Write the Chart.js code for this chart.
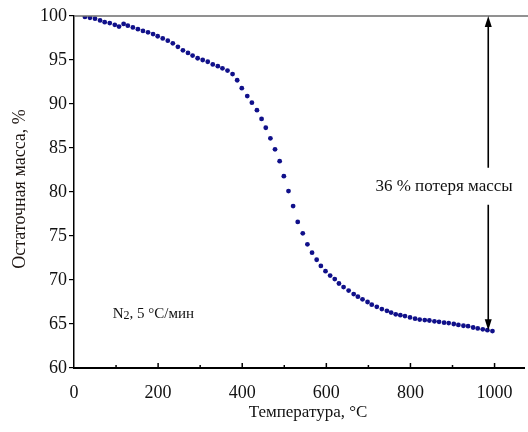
<!DOCTYPE html>
<html>
<head>
<meta charset="utf-8">
<script src="https://cdn.jsdelivr.net/npm/chart.js@4"></script>
<style>
  html, body { margin: 0; padding: 0; background: #fff; }
  #wrap { width: 528px; height: 432px; position: relative; }
</style>
</head>
<body>
<div id="wrap"><canvas id="tga"></canvas></div>
<script>
// temperature, °C
const temps = [
  26, 38, 50, 62, 73, 85, 97, 107, 118, 128,
  140, 152, 164, 176, 188, 199, 211, 223, 235, 247,
  259, 271, 282, 294, 306, 318, 330, 342, 353, 365,
  377, 388, 399, 412, 423, 435, 446, 456, 467, 478,
  489, 499, 510, 521, 532, 544, 555, 566, 577, 587,
  598, 609, 620, 630, 641, 653, 665, 675, 686, 698,
  708, 720, 732, 744, 754, 765, 776, 787, 799, 811,
  822, 834, 845, 857, 868, 880, 891, 903, 914, 926,
  937, 949, 960, 972, 983, 995
];
// residual mass, %
const mass = [
  99.9, 99.8, 99.7, 99.5, 99.3, 99.2, 99.0, 98.8, 99.1, 98.9,
  98.7, 98.5, 98.3, 98.15, 97.95, 97.7, 97.45, 97.2, 96.9, 96.5,
  96.1, 95.8, 95.5, 95.2, 95.0, 94.8, 94.5, 94.3, 94.05, 93.8,
  93.4, 92.7, 91.8, 90.9, 90.15, 89.3, 88.3, 87.3, 86.1, 84.85,
  83.5, 81.8, 80.1, 78.4, 76.6, 75.3, 74.05, 73.1, 72.3, 71.6,
  71.0, 70.5, 70.1, 69.6, 69.2, 68.8, 68.4, 68.1, 67.8, 67.5,
  67.2, 66.95, 66.7, 66.5, 66.3, 66.1, 66.0, 65.9, 65.75, 65.6,
  65.5, 65.45, 65.4, 65.3, 65.25, 65.15, 65.1, 65.0, 64.9, 64.8,
  64.75, 64.6, 64.5, 64.4, 64.3, 64.2
];

const xMajorTicks = [0, 200, 400, 600, 800, 1000];
const yMajorTicks = [60, 65, 70, 75, 80, 85, 90, 95, 100];

const xTitle = 'Температура, °C';
const yTitle = 'Остаточная масса, %';
const lossLabel = '36 % потеря массы';
// "N2, 5 °C/мин" with the 2 set as a subscript
const condLabelParts = ['N', '2', ', 5 °C/мин'];

// arrow: temperature and mass range it spans
const arrowT = 985;
const arrowTop = 100;
const arrowBottom = 64.3;
const lossLabelAt = { t: 880, m: 80.6 };
const condLabelAt = { t: 92, m: 66.1 };

const serif = '"Liberation Serif", "DejaVu Serif", serif';

const points = temps.map((t, i) => ({ x: t, y: mass[i] }));

function arrowHead(ctx, x, y, dir) {
  ctx.beginPath();
  ctx.moveTo(x, y);
  ctx.lineTo(x - 3.5, y - dir * 11);
  ctx.lineTo(x + 3.5, y - dir * 11);
  ctx.closePath();
  ctx.fill();
}

const decorations = {
  id: 'decorations',
  afterDraw(chart) {
    const { ctx, chartArea: area, scales: { x, y } } = chart;
    ctx.save();

    // top frame line
    ctx.strokeStyle = '#6d6d6d';
    ctx.lineWidth = 1.5;
    ctx.beginPath();
    ctx.moveTo(area.left, area.top);
    ctx.lineTo(chart.width, area.top);
    ctx.stroke();

    // inward ticks on the x axis
    ctx.strokeStyle = '#000';
    ctx.lineWidth = 1.5;
    x.ticks.forEach(tk => {
      if (tk.value % 100 !== 0 || tk.value === 0) return;
      const px = x.getPixelForValue(tk.value);
      const len = tk.value % 200 === 0 ? 5 : 3;
      ctx.beginPath();
      ctx.moveTo(px, area.bottom);
      ctx.lineTo(px, area.bottom - len);
      ctx.stroke();
    });

    // mass-loss arrow
    const ax = x.getPixelForValue(arrowT);
    const yTop = y.getPixelForValue(arrowTop);
    const yBot = y.getPixelForValue(arrowBottom);
    const yText = y.getPixelForValue(lossLabelAt.m);
    ctx.fillStyle = '#000';
    ctx.lineWidth = 1.6;
    ctx.beginPath();
    ctx.moveTo(ax, yTop + 8);
    ctx.lineTo(ax, yText - 19);
    ctx.moveTo(ax, yText + 18);
    ctx.lineTo(ax, yBot - 8);
    ctx.stroke();
    arrowHead(ctx, ax, yTop, -1);
    arrowHead(ctx, ax, yBot, 1);

    ctx.fillStyle = '#111';
    ctx.textBaseline = 'middle';
    ctx.font = '17px ' + serif;
    ctx.textAlign = 'center';
    ctx.fillText(lossLabel, x.getPixelForValue(lossLabelAt.t), yText);

    // condition label, subscript drawn piece by piece
    ctx.textAlign = 'left';
    let cx = x.getPixelForValue(condLabelAt.t);
    const cy = y.getPixelForValue(condLabelAt.m);
    ctx.font = '15px ' + serif;
    ctx.fillText(condLabelParts[0], cx, cy);
    cx += ctx.measureText(condLabelParts[0]).width;
    ctx.font = '12px ' + serif;
    ctx.fillText(condLabelParts[1], cx, cy + 2);
    cx += ctx.measureText(condLabelParts[1]).width;
    ctx.font = '15px ' + serif;
    ctx.fillText(condLabelParts[2], cx, cy);

    // axis titles
    ctx.font = '17px ' + serif;
    ctx.textAlign = 'center';
    ctx.fillText(xTitle, 308, 413);
    ctx.save();
    ctx.translate(20, 189);
    ctx.rotate(-Math.PI / 2);
    ctx.font = '18px ' + serif;
    ctx.fillStyle = '#1c1410';
    ctx.fillText(yTitle, 0, 0);
    ctx.restore();

    ctx.restore();
  }
};

new Chart(document.getElementById('tga'), {
  type: 'scatter',
  data: {
    datasets: [{
      data: points,
      pointRadius: 2.4,
      pointBackgroundColor: '#10108a',
      pointBorderWidth: 0,
      showLine: false
    }]
  },
  options: {
    responsive: true,
    maintainAspectRatio: false,
    animation: false,
    layout: { padding: { left: 0, right: 0, top: 16, bottom: 0 } },
    plugins: { legend: { display: false }, tooltip: { enabled: false } },
    scales: {
      x: {
        type: 'linear',
        min: 0,
        max: 1070,
        afterFit(s) { s.height = 64; },
        border: { color: '#000', width: 2 },
        grid: { display: false },
        ticks: {
          stepSize: 100,
          includeBounds: false,
          padding: 6,
          autoSkip: false,
          maxRotation: 0,
          color: '#111',
          font: { family: serif, size: 18 },
          callback: v => (xMajorTicks.includes(v) ? String(v) : '')
        }
      },
      y: {
        min: 60,
        max: 100,
        afterFit(s) { s.width = 74; },
        border: { color: '#000', width: 1.5 },
        grid: { drawOnChartArea: false, drawTicks: true, tickLength: 5, color: '#000', lineWidth: 1.2 },
        ticks: {
          stepSize: 2.5,
          padding: 2,
          color: '#111',
          font: { family: serif, size: 18 },
          callback: v => (yMajorTicks.includes(v) ? String(v) : '')
        }
      }
    }
  },
  plugins: [decorations]
});
</script>
</body>
</html>
